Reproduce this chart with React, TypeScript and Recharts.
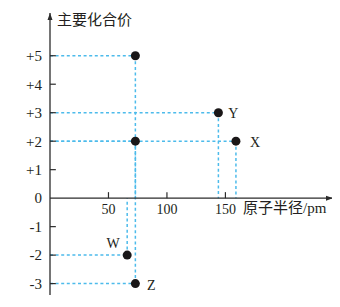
import { ScatterChart, Scatter, XAxis, YAxis, ReferenceLine, ReferenceDot, LabelList } from "recharts";

// 原子半径 (pm) and 主要化合价 of the plotted points
const radius = [73, 73, 144, 159, 66, 73];
const valence = [5, 2, 3, 2, -2, -3];
const names = ["", "", "Y", "X", "W", "Z"];

const xTicks = [50, 100, 150];
const yTicks = [5, 4, 3, 2, 1, 0, -1, -2, -3];

const X_MAX = 242;
const Y_MIN = -3.4;
const Y_MAX = 6.5;

const AXIS = "#2b2b2b";
const GUIDE = "#4dbbeb";
const SERIF = "'Liberation Serif', 'Times New Roman', serif";
const CJK = "'Noto Sans CJK SC', sans-serif";

const points = radius.map((r, i) => ({ r, v: valence[i], name: names[i] }));

const labelOffset: Record<string, [number, number]> = {
  Y: [15, 1],
  X: [19, 1],
  W: [-14, -12],
  Z: [16, 2],
};

const fmt = (v: number) => (v > 0 ? `+${v}` : `${v}`);

function PointLabel(props: any) {
  const { x, y, width, height, value } = props;
  if (!value) return null;
  const [dx, dy] = labelOffset[value] ?? [12, 0];
  const cx = x + (width ?? 0) / 2;
  const cy = y + (height ?? 0) / 2;
  return (
    <text x={cx + dx} y={cy + dy} textAnchor="middle" dominantBaseline="central" fontFamily={SERIF} fontSize={14} fill="#231f20">
      {value}
    </text>
  );
}

export default function App() {
  return (
    <div style={{ margin: -8, width: 340, height: 307, background: "#fff" }}>
      <ScatterChart width={340} height={307} margin={{ top: 13, right: 7, bottom: 12, left: 0 }}>
        <XAxis type="number" dataKey="r" domain={[0, X_MAX]} hide allowDataOverflow />
        <YAxis
          type="number"
          dataKey="v"
          domain={[Y_MIN, Y_MAX]}
          ticks={yTicks}
          interval={0}
          width={50}
          allowDataOverflow
          tickLine={false}
          tickSize={0}
          tickMargin={8}
          tickFormatter={fmt}
          axisLine={{ stroke: AXIS, strokeWidth: 1.3 }}
          tick={{ fill: "#231f20", fontSize: 15, fontFamily: SERIF }}
        />

        {/* dashed guides from each point to the axes */}
        {points.map((p, i) => (
          <ReferenceLine
            key={`h${i}`}
            segment={[{ x: 0, y: p.v }, { x: p.r, y: p.v }]}
            stroke={GUIDE}
            strokeWidth={1.5}
            strokeDasharray="3 2.6"
            ifOverflow="visible"
          />
        ))}
        {points.map((p, i) => (
          <ReferenceLine
            key={`v${i}`}
            segment={[{ x: p.r, y: p.v }, { x: p.r, y: 0 }]}
            stroke={GUIDE}
            strokeWidth={1.5}
            strokeDasharray="3 2.6"
            ifOverflow="visible"
          />
        ))}

        {/* inner y ticks */}
        {yTicks.filter((v) => v !== 0).map((v) => (
          <ReferenceLine key={`yt${v}`} segment={[{ x: 0, y: v }, { x: 5, y: v }]} stroke={AXIS} strokeWidth={1.2} ifOverflow="visible" />
        ))}

        {/* x axis at zero */}
        <ReferenceLine y={0} stroke={AXIS} strokeWidth={1.3} ifOverflow="visible" />
        {xTicks.map((t) => (
          <ReferenceDot
            key={`xt${t}`}
            x={t}
            y={0}
            ifOverflow="visible"
            shape={(p: any) => (
              <g>
                <line x1={p.cx} y1={p.cy} x2={p.cx} y2={p.cy - 6} stroke={AXIS} strokeWidth={1.2} />
                <text x={p.cx} y={p.cy + 16} textAnchor="middle" fontFamily={SERIF} fontSize={14} fill="#231f20">
                  {t}
                </text>
              </g>
            )}
          />
        ))}

        {/* arrows and axis titles */}
        <ReferenceDot
          x={X_MAX}
          y={0}
          ifOverflow="visible"
          shape={(p: any) => (
            <g>
              <path d={`M${p.cx},${p.cy} L${p.cx - 7},${p.cy - 2.5} L${p.cx - 7},${p.cy + 2.5} Z`} fill={AXIS} />
              <text x={p.cx - 90} y={p.cy + 15} fontSize={15} fill="#231f20">
                <tspan fontFamily={CJK}>原子半径</tspan>
                <tspan fontFamily={SERIF}>/pm</tspan>
              </text>
            </g>
          )}
        />
        <ReferenceDot
          x={0}
          y={Y_MAX}
          ifOverflow="visible"
          shape={(p: any) => (
            <g>
              <path d={`M${p.cx},${p.cy} L${p.cx - 2.5},${p.cy + 7} L${p.cx + 2.5},${p.cy + 7} Z`} fill={AXIS} />
              <text x={p.cx + 7} y={p.cy + 12} fontFamily={CJK} fontSize={15} fill="#231f20">
                主要化合价
              </text>
            </g>
          )}
        />

        <Scatter
          data={points}
          isAnimationActive={false}
          shape={(p: any) => <circle cx={p.cx} cy={p.cy} r={4.5} fill="#1a1718" />}
        >
          <LabelList dataKey="name" content={PointLabel} />
        </Scatter>
      </ScatterChart>
    </div>
  );
}
